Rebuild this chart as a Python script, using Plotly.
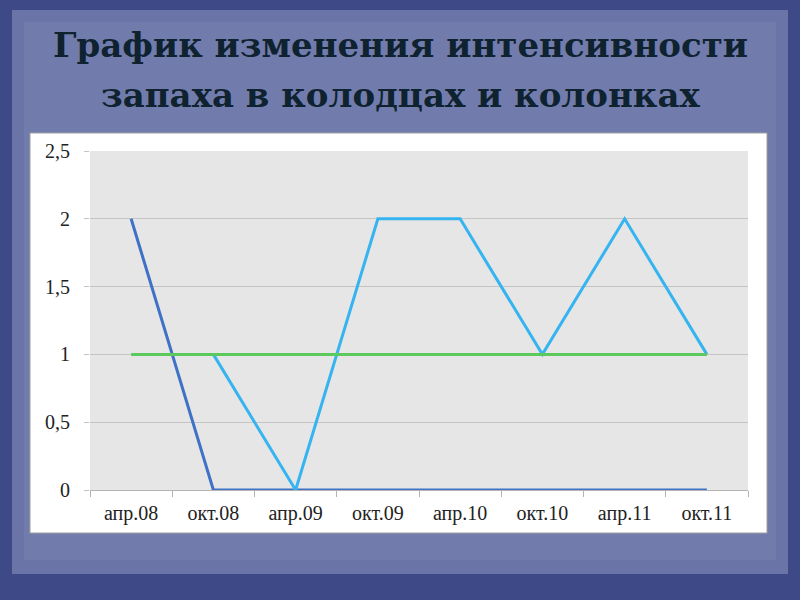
import plotly.graph_objects as go

categories = ["апр.08", "окт.08", "апр.09", "окт.09", "апр.10", "окт.10", "апр.11", "окт.11"]
series_dark = [2, 0, 0, 0, 0, 0, 0, 0]
series_light = [None, 1, 0, 2, 2, 1, 2, 1]
series_green = [1, 1, 1, 1, 1, 1, 1, 1]
y_tickvals = [0, 0.5, 1, 1.5, 2, 2.5]
y_ticktext = ["0", "0,5", "1", "1,5", "2", "2,5"]
title_lines = ["График изменения интенсивности", "запаха в колодцах и колонках"]

W, H = 800, 600
L, R, T, B = 90, 748, 151, 490

def px(x):
    return (x - L) / (R - L)

def py(y):
    return (B - y) / (B - T)

fig = go.Figure()
fig.add_trace(go.Scatter(x=categories, y=series_dark, mode="lines",
                         line=dict(color="#3F72C6", width=3), showlegend=False))
fig.add_trace(go.Scatter(x=categories, y=series_light, mode="lines",
                         line=dict(color="#36B4F0", width=3), showlegend=False))
fig.add_trace(go.Scatter(x=categories, y=series_green, mode="lines",
                         line=dict(color="#5CC95C", width=3), showlegend=False))

shapes = [
    dict(type="rect", xref="paper", yref="paper", x0=px(12), x1=px(788), y0=py(574), y1=py(10),
         fillcolor="#6A74A6", line=dict(width=0), layer="below"),
    dict(type="rect", xref="paper", yref="paper", x0=px(24), x1=px(776), y0=py(560), y1=py(22),
         fillcolor="#727CAC", line=dict(width=0), layer="below"),
    dict(type="rect", xref="paper", yref="paper", x0=px(30), x1=px(767), y0=py(533), y1=py(133),
         fillcolor="#FFFFFF", line=dict(color="#A0A0A0", width=1), layer="below"),
    dict(type="rect", xref="paper", yref="paper", x0=0, x1=1, y0=0, y1=1,
         fillcolor="#E6E6E6", line=dict(width=0), layer="below"),
]

title_font = dict(family="DejaVu Serif", size=34, color="#0E2230", weight="bold")
annotations = [
    dict(text=title_lines[0], xref="paper", yref="paper", x=px(400), y=py(45), xanchor="center",
         yanchor="middle", showarrow=False, font=title_font),
    dict(text=title_lines[1], xref="paper", yref="paper", x=px(400), y=py(95), xanchor="center",
         yanchor="middle", showarrow=False, font=title_font),
]

fig.update_layout(
    width=W, height=H,
    margin=dict(l=L, r=W - R, t=T, b=H - B),
    paper_bgcolor="#3E4A88",
    plot_bgcolor="rgba(0,0,0,0)",
    shapes=shapes,
    annotations=annotations,
    font=dict(family="Liberation Serif", size=20, color="#222222"),
    xaxis=dict(type="category", range=[-0.5, 7.5], showgrid=False,
               showline=True, linecolor="#B4B4B4", linewidth=1,
               ticks="outside", tickson="boundaries", ticklen=6, tickcolor="#B4B4B4",
               tickfont=dict(family="Liberation Serif", size=20, color="#222222"),
               ticklabelstandoff=5),
    yaxis=dict(range=[0, 2.5], tickvals=y_tickvals, ticktext=y_ticktext,
               showgrid=True, gridcolor="#C4C4C4", gridwidth=1, zeroline=False,
               showline=False, ticks="outside", ticklen=5, tickcolor="#C4C4C4",
               tickfont=dict(family="Liberation Serif", size=20, color="#222222"),
               ticklabelstandoff=10),
)

fig.write_html("out.html", config={"displayModeBar": False},
               post_script="document.body.style.margin='0';document.body.style.overflow='hidden';")
